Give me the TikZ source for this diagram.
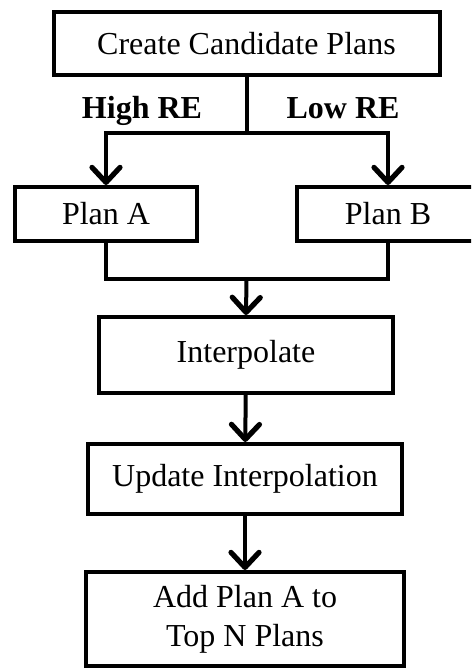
\documentclass[tikz,border=0pt]{standalone}
\usepackage{fontspec}
\setmainfont{Liberation Serif}
\usepackage{tikz}
\usetikzlibrary{arrows.meta}

\begin{document}
\begin{tikzpicture}[x=1pt, y=1pt]

\tikzset{
  box/.style    = {rectangle, draw=black, line width=4pt, fill=white,
                   inner sep=0pt, align=center,
                   font=\fontsize{32}{39}\selectfont},
  plan/.style   = {box, minimum width=182pt, minimum height=54pt},
  conn/.style   = {line width=4pt, black},
  arr/.style    = {conn, -{Straight Barb[length=15pt,width=28pt,line width=1.2pt 1,round]}},
  edgelbl/.style = {anchor=base, font=\fontsize{32}{36}\selectfont\bfseries}
}

\clip (0,0) rectangle (471,-668);

%% -- Top ---------------------------------------------------------
\node[box, minimum width=386pt, minimum height=63pt] (create) at (246.5,-43.5)
      {Create Candidate Plans};

%% -- Branches ----------------------------------------------------
\node[plan] (planA) at (106,-214) {Plan A};
\node[plan] (planB) at (388,-214) {Plan B};

\node[edgelbl] (high) at (142,-119) {High RE};
\node[edgelbl] (low)  at (343,-119) {Low RE};

%% -- Chain -------------------------------------------------------
\node[box, minimum width=294pt, minimum height=76pt] (interp) at (246,-355)
      {Interpolate};
\node[box, minimum width=314pt, minimum height=70pt] (update) at (245,-479)
      {Update Interpolation};
\node[box, minimum width=318pt, minimum height=94pt] (addtop) at (245,-619)
      {Add Plan A to\\Top N Plans};

%% -- Junctions ---------------------------------------------------
\coordinate (split) at (246.5,-133);
\coordinate (merge) at (246.5,-279);

%% -- Arrows ------------------------------------------------------
\draw[conn] (create.south) -- (split);
\draw[arr]  (split) -| (planA.north);
\draw[arr]  (split) -| (planB.north);

\draw[conn] (planA.south) |- (merge);
\draw[conn] (planB.south) |- (merge);
\draw[arr]  (merge) -- (interp.north);

\draw[arr] (interp) -- (update);
\draw[arr] (update) -- (addtop);

\end{tikzpicture}
\end{document}
